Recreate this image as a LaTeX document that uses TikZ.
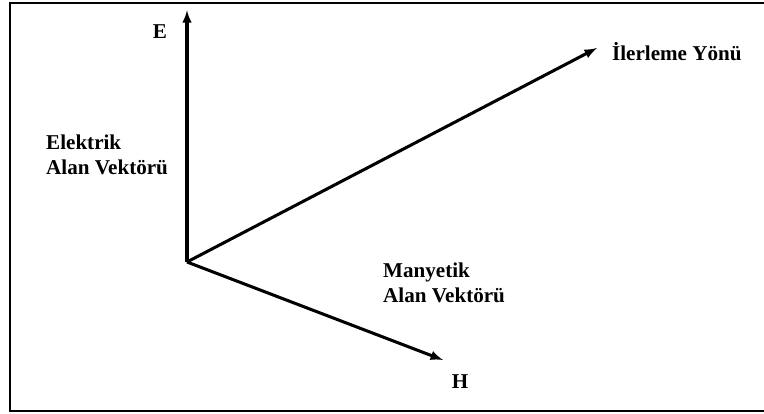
\documentclass[tikz,border=0pt]{standalone}
\usepackage{fontspec}
\setmainfont{Liberation Serif}
\usepackage{tikz}
\usetikzlibrary{arrows}

\begin{document}
\begin{tikzpicture}[scale=1,font=\fontsize{18}{21.5}\selectfont\bfseries]
\useasboundingbox (-5.61,-4.56) rectangle (17.31,7.86);
\draw[line width=2pt] (17.31,7.77) -- (-5.31,7.77) -- (-5.31,-4.47) -- (17.31,-4.47);

\coordinate (O) at (0,0);
\coordinate (E) at (0,7.55);
\coordinate (Y) at (12.3,6.42);
\coordinate (H) at (7.68,-2.94);

\path[->, >=latex,line width=2.6pt] (O) edge [] node[]{} (E);
\path[->, >=latex,line width=2.6pt] (O) edge [] node[]{} (Y);
\path[->, >=latex,line width=2.6pt] (O) edge [] node[]{} (H);

\node (Elbl) at (-0.81,6.9) {E};
\node[anchor=west] (Ylbl) at (12.63,6.3) {İlerleme Yönü};
\node (Hlbl) at (8.19,-3.6) {H};

\node[anchor=west,align=left,inner sep=0pt] (EAlan) at (-4.23,3.21) {Elektrik\\Alan Vektörü};
\node[anchor=west,align=left,inner sep=0pt] (HAlan) at (5.88,-0.63) {Manyetik\\Alan Vektörü};
\end{tikzpicture}
\end{document}
